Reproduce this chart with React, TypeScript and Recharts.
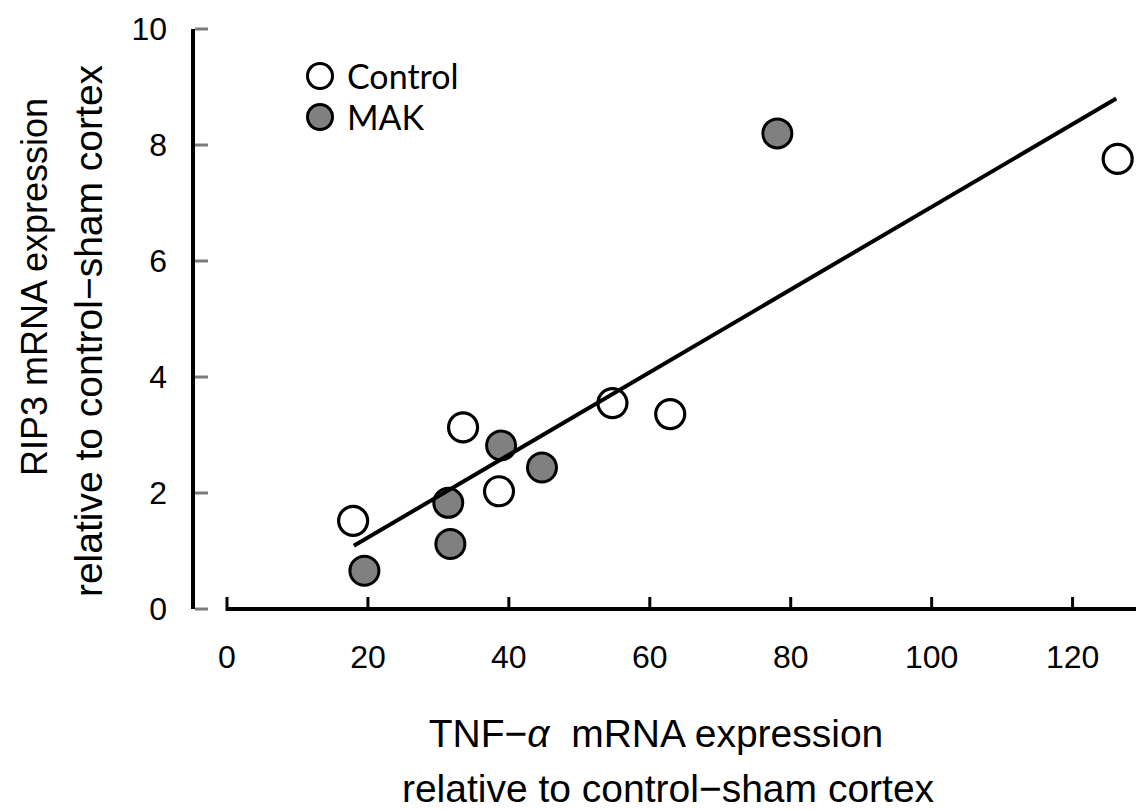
import React from 'react';
import { ScatterChart, Scatter, XAxis, YAxis, Legend, Label } from 'recharts';

// values
const controlX = [17.9, 33.5, 38.6, 54.7, 62.9, 126.4];
const controlY = [1.52, 3.13, 2.03, 3.55, 3.36, 7.76];
const makX = [19.5, 31.4, 31.7, 38.9, 44.7, 78.1];
const makY = [0.66, 1.83, 1.12, 2.82, 2.44, 8.2];
const fitX = [18.0, 126.2];
const fitY = [1.09, 8.8];
const xTicks = [0, 20, 40, 60, 80, 100, 120];
const yTicks = [0, 2, 4, 6, 8, 10];

const toPoints = (xs: number[], ys: number[]) => xs.map((x, i) => ({ x, y: ys[i] }));

const controlData = toPoints(controlX, controlY);
const makData = toPoints(makX, makY);
const fitData = toPoints(fitX, fitY);

const sans = '"Liberation Sans", Arial, sans-serif';
const legendFont = 'Lato, "Open Sans", sans-serif';

const renderXTick = (props: any) => {
  const { x, y, payload } = props;
  return (
    <g>
      <line x1={x} y1={y - 12} x2={x} y2={y + 2} stroke="#000" strokeWidth={3} />
      <text x={x} y={y + 48} textAnchor="middle" dominantBaseline="central" fontFamily={sans} fontSize={32} fill="#000">
        {payload.value}
      </text>
    </g>
  );
};

const renderYTick = (props: any) => {
  const { x, y, payload } = props;
  return (
    <g>
      <line x1={x + 2} y1={y} x2={x + 15} y2={y} stroke="#7a7a7a" strokeWidth={3} />
      <text x={x - 26} y={y} textAnchor="end" dominantBaseline="central" fontFamily={sans} fontSize={32} fill="#000">
        {payload.value}
      </text>
    </g>
  );
};

const renderXTitle = () => (
  <text fontFamily={sans} fontSize={39} fill="#000" textAnchor="middle">
    <tspan x={656} y={747}>
      {'TNF−'}
      <tspan fontStyle="italic">α</tspan>
      {'\u00a0\u00a0mRNA expression'}
    </tspan>
    <tspan x={668} y={802}>relative to control−sham cortex</tspan>
  </text>
);

const renderYTitle = () => (
  <g>
    <text transform="translate(47,287) rotate(-90)" fontFamily={sans} fontSize={36} fill="#000" textAnchor="middle">
      RIP3 mRNA expression
    </text>
    <text transform="translate(102,331) rotate(-90)" fontFamily={sans} fontSize={39} fill="#000" textAnchor="middle">
      relative to control−sham cortex
    </text>
  </g>
);

const openDot = (props: any) => (
  <circle cx={props.cx} cy={props.cy} r={14.5} fill="#fff" stroke="#000" strokeWidth={3.2} />
);

const grayDot = (props: any) => (
  <circle cx={props.cx} cy={props.cy} r={14.5} fill="#808080" stroke="#000" strokeWidth={3} />
);

const noDot = () => <g />;

const legendItems = [
  { label: 'Control', fill: '#fff' },
  { label: 'MAK', fill: '#808080' },
];

const renderLegend = () => (
  <div style={{ fontFamily: legendFont, fontSize: 34, color: '#000' }}>
    {legendItems.map((item) => (
      <div key={item.label} style={{ display: 'flex', alignItems: 'center', height: 41 }}>
        <svg width={30} height={30}>
          <circle cx={15} cy={15} r={12.5} fill={item.fill} stroke="#000" strokeWidth={3} />
        </svg>
        <span style={{ marginLeft: 12, lineHeight: '41px' }}>{item.label}</span>
      </div>
    ))}
  </div>
);

export default function App() {
  return (
    <div style={{ position: 'absolute', left: 0, top: 0, background: '#fff' }}>
      <ScatterChart width={1138} height={810} margin={{ top: 29, right: 2, bottom: 0, left: 0 }}>
        <XAxis
          type="number"
          dataKey="x"
          domain={[0, 129]}
          ticks={xTicks}
          interval={0}
          padding={{ left: 34, right: 0 }}
          height={201}
          tickSize={0}
          tickMargin={0}
          tickLine={false}
          tick={renderXTick}
          axisLine={{ stroke: '#000', strokeWidth: 4, strokeDasharray: '0 34 2000' }}
        >
          <Label content={renderXTitle} />
        </XAxis>
        <YAxis
          type="number"
          dataKey="y"
          domain={[0, 10]}
          ticks={yTicks}
          interval={0}
          width={193}
          tickSize={0}
          tickMargin={0}
          tickLine={false}
          tick={renderYTick}
          axisLine={{ stroke: '#000', strokeWidth: 4 }}
        >
          <Label content={renderYTitle} />
        </YAxis>
        <Legend
          content={renderLegend}
          layout="vertical"
          align="center"
          verticalAlign="middle"
          wrapperStyle={{ left: 305, top: 55, width: 'auto' }}
        />
        <Scatter name="Control" data={controlData} shape={openDot} isAnimationActive={false} />
        <Scatter name="MAK" data={makData} shape={grayDot} isAnimationActive={false} />
        <Scatter
          name="fit"
          data={fitData}
          shape={noDot}
          line={{ stroke: '#000', strokeWidth: 4 }}
          legendType="none"
          isAnimationActive={false}
        />
      </ScatterChart>
    </div>
  );
}
